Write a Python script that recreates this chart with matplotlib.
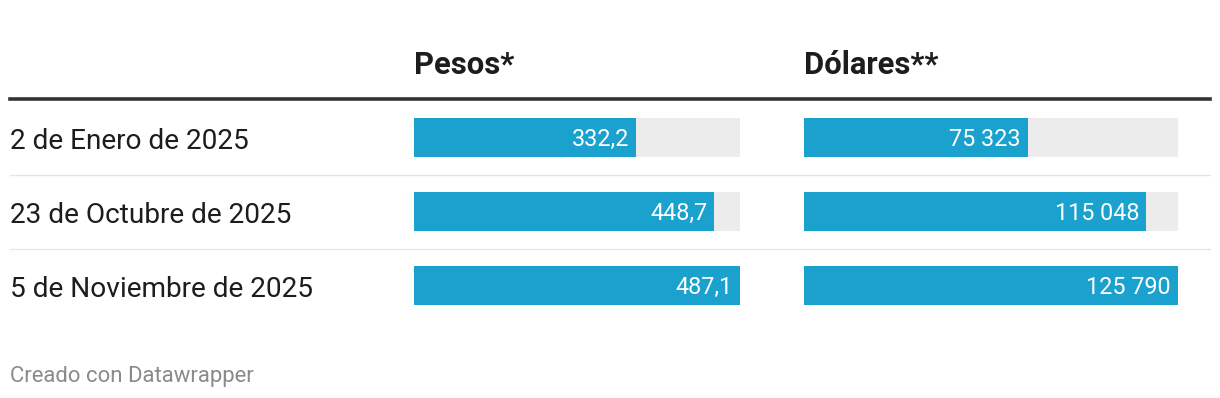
import matplotlib
matplotlib.use("Agg")
import matplotlib.pyplot as plt
from matplotlib import transforms
from matplotlib.lines import Line2D

# %% data
fechas = ["2 de Enero de 2025", "23 de Octubre de 2025", "5 de Noviembre de 2025"]
pesos = [332.2, 448.7, 487.1]
dolares = [75323, 115048, 125790]
titulos = ["Pesos*", "Dólares**"]
nota = "Creado con Datawrapper"

# %% style
W, H = 1220, 398
ROW = 74  # px between rows
azul = "#1ba1ce"
gris_fondo = "#ececec"
plt.rcParams["font.family"] = ["Roboto", "DejaVu Sans"]

fig = plt.figure(figsize=(W / 100, H / 100), dpi=100)


def caja(x0, x1, y0, y1):
    # pixel box -> figure fraction
    return [x0 / W, 1 - y1 / H, (x1 - x0) / W, (y1 - y0) / H]


n = len(fechas)
ax_p = fig.add_axes(caja(414, 740, 100.5, 322.5))
ax_d = fig.add_axes(caja(804, 1178, 100.5, 322.5))

fmt_p = lambda v: f"{v:.1f}".replace(".", ",")
fmt_d = lambda v: f"{v:,}".replace(",", " ")

for ax, vals, fmt in [(ax_p, pesos, fmt_p), (ax_d, dolares, fmt_d)]:
    vmax = max(vals)
    rows = range(len(vals))
    ax.barh(rows, [vmax] * len(vals), height=39 / ROW, color=gris_fondo, lw=0)
    ax.barh(rows, vals, height=39 / ROW, color=azul, lw=0)
    pad = vmax * 7 / (ax.get_position().width * W)
    for i, v in enumerate(vals):
        ax.text(v - pad, i + 8.5 / ROW, fmt(v), ha="right", va="baseline",
                color="white", fontsize=16.8)
    ax.set_xlim(0, vmax)
    ax.set_ylim(n - 0.5, -0.5)
    ax.axis("off")

# row labels and separators, tied to the bar rows
tr = transforms.blended_transform_factory(fig.transFigure, ax_p.transData)
for i, f in enumerate(fechas):
    fig.text(10 / W, i + 11.3 / ROW, f, transform=tr, ha="left", va="baseline",
             fontsize=20.15, color="#1d1d1d")
for i in range(n - 1):
    fig.add_artist(Line2D([10 / W, 1210 / W], [i + 0.5, i + 0.5], transform=tr,
                          color="#e6e6e6", lw=1))

# header
fig.text(414 / W, 1 - 74 / H, titulos[0], ha="left", va="baseline",
         fontsize=22.3, fontweight="bold", color="#1d1d1d")
fig.text(804 / W, 1 - 74 / H, titulos[1], ha="left", va="baseline",
         fontsize=22.3, fontweight="bold", color="#1d1d1d")
fig.add_artist(Line2D([10 / W, 1210 / W], [1 - 99 / H, 1 - 99 / H],
                      color="#333333", lw=2.6))

fig.text(10 / W, 1 - 382 / H, nota, ha="left", va="baseline",
         fontsize=15.9, color="#8a8a8a")

fig.savefig("out.png", dpi=100, facecolor="white")
